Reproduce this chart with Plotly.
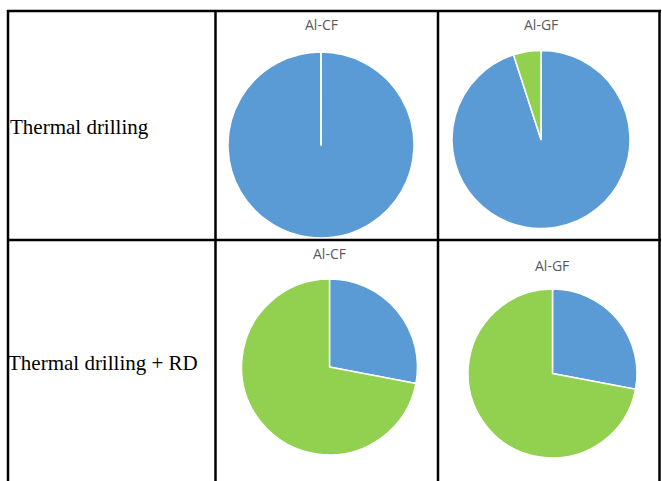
import plotly.graph_objects as go

W, H = 662, 481

# Data
row_labels = ["Thermal drilling", "Thermal drilling + RD"]
titles = ["Al-CF", "Al-GF", "Al-CF", "Al-GF"]
slice_names = ["Blue", "Green"]
values_tl = [100, 0.02]
values_tr = [95, 5]
values_bl = [28, 72]
values_br = [28, 72]
all_values = [values_tl, values_tr, values_bl, values_br]
colors = ["#5B9BD5", "#92D050"]

# pie placements in pixels (center x, center y, radius)
pies = [(321, 145, 93), (541, 139.5, 89), (329.5, 367, 88), (552.5, 373.5, 84.5)]
title_pos = [(321, 25), (541, 25), (329, 253), (552, 265)]


def px(x):
    return x / W


def py(y):
    return 1 - y / H


fig = go.Figure()
for (cx, cy, r), vals in zip(pies, all_values):
    fig.add_trace(go.Pie(
        labels=slice_names,
        values=vals,
        sort=False,
        direction="clockwise",
        rotation=0,
        textinfo="none",
        hoverinfo="label+value",
        marker=dict(colors=colors, line=dict(color="white", width=1.5)),
        domain=dict(x=[px(cx - r), px(cx + r)], y=[py(cy + r), py(cy - r)]),
        showlegend=False,
    ))

annotations = []
for t, (x, y) in zip(titles, title_pos):
    annotations.append(dict(text=t, x=px(x), y=py(y), xref="paper", yref="paper",
                            showarrow=False, xanchor="center", yanchor="middle",
                            font=dict(family="Open Sans, Liberation Sans", size=14, color="#595959")))
for t, (x, y) in zip(row_labels, [(8, 127), (6, 363)]):
    annotations.append(dict(text=t, x=px(x), y=py(y), xref="paper", yref="paper",
                            showarrow=False, xanchor="left", yanchor="middle",
                            font=dict(family="Liberation Serif, Times New Roman", size=21, color="#000000")))

shapes = []
lw = 2.5
# horizontal lines
for y in [11, 240]:
    shapes.append(dict(type="line", xref="paper", yref="paper",
                       x0=px(7), x1=px(661), y0=py(y), y1=py(y),
                       line=dict(color="black", width=lw)))
# vertical lines
for x in [8, 215.5, 438, 659.5]:
    shapes.append(dict(type="line", xref="paper", yref="paper",
                       x0=px(x), x1=px(x), y0=py(10), y1=py(481),
                       line=dict(color="black", width=lw)))

fig.update_layout(
    width=W, height=H,
    margin=dict(l=0, r=0, t=0, b=0),
    paper_bgcolor="white", plot_bgcolor="white",
    annotations=annotations, shapes=shapes,
)

fig.write_html("out.html")
